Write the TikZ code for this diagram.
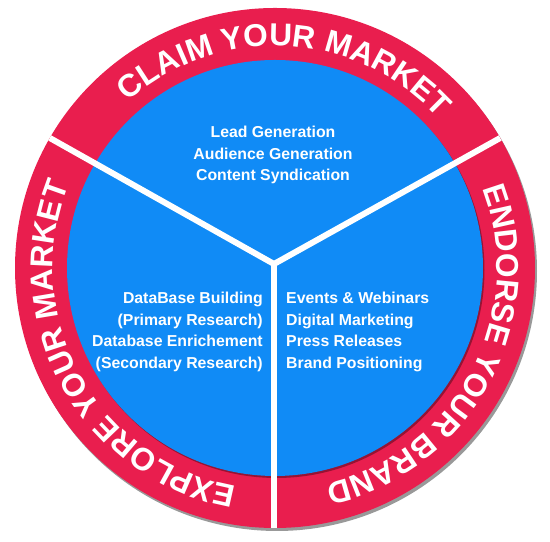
\documentclass[tikz,border=0pt]{standalone}
\usepackage{fontspec}
\setmainfont{Liberation Sans}
\usetikzlibrary{calc, decorations.text}
\definecolor{ringred}{RGB}{233, 30, 78}
\definecolor{discblue}{RGB}{16, 139, 246}
\newcommand{\ringfont}{\fontsize{27}{27}\selectfont\bfseries}

\begin{document}
\begin{tikzpicture}[
    x=0.03cm, y=0.03cm,
    font=\bfseries,
    item/.style={text=white, inner sep=0pt,
        font=\fontsize{13.5}{18.5}\selectfont\bfseries},
    divider/.style={white, line width=5.1pt},
    % Style to write white capitals along an arc of the ring
    ring text/.style={
        decorate,
        decoration={
            text along path,
            text={|\color{white}\ringfont|#1},
            text align=center
        }
    }
]
    \useasboundingbox (0,0) rectangle (550,542);

    % Coordinates
    \coordinate (ctr)   at (275, 274);
    \coordinate (hub)   at (274, 278);
    \coordinate (edgeL) at ($(ctr)+(150:260)$);
    \coordinate (edgeR) at ($(ctr)+(30:260)$);
    \coordinate (edgeB) at (274, 14);

    % Ring and disc with their shadows
    \fill[black!40, shift={(ctr)}] (2,-3) circle[radius=260];
    \fill[ringred] (ctr) circle[radius=260];
    \fill[ringred!65!black, shift={(ctr)}] (1.5,-2) circle[radius=208];
    \fill[discblue] (ctr) circle[radius=208];

    % Dividers
    \draw[divider] (hub) -- (edgeL);
    \draw[divider] (hub) -- (edgeR);
    \draw[divider] (hub) -- (edgeB);

    % Ring captions
    \path[ring text=CLAIM YOUR MARKET, shift={(ctr)}]
        (147:222) arc[start angle=147, end angle=27, radius=222];
    \path[ring text=ENDORSE YOUR BRAND, shift={(ctr)}]
        (32:222) arc[start angle=32, end angle=-88, radius=222];
    \path[ring text=EXPLORE YOUR MARKET, shift={(ctr)}]
        (269:222) arc[start angle=269, end angle=149, radius=222];

    % Services
    \node[item, align=center] (claim) at (273, 387)
        {Lead Generation\\Audience Generation\\Content Syndication};
    \node[item, align=right, anchor=east] (explore) at (263, 210)
        {DataBase Building\\(Primary Research)\\Database Enrichement\\(Secondary Research)};
    \node[item, align=left, anchor=west] (endorse) at (286, 210)
        {Events \& Webinars\\Digital Marketing\\Press Releases\\Brand Positioning};

\end{tikzpicture}
\end{document}
